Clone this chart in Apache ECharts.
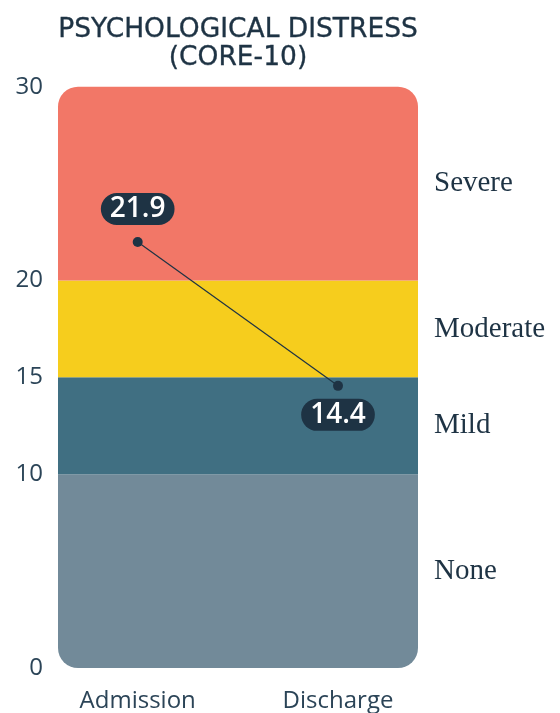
<!DOCTYPE html>
<html>
<head>
<meta charset="utf-8">
<script src="https://cdn.jsdelivr.net/npm/echarts@6/dist/echarts.min.js"></script>
<style>
html,body{margin:0;padding:0;background:#fff;}
#chart{width:560px;height:713px;}
</style>
</head>
<body>
<div id="chart"></div>
<script>
// Data
const titleText = 'PSYCHOLOGICAL DISTRESS\n(CORE-10)';
const timepoints = ['Admission', 'Discharge'];
const scores = [21.9, 14.4];
const bandNames = ['None', 'Mild', 'Moderate', 'Severe'];
const bandSizes = [10, 5, 5, 10];
const bandColors = ['#728A99', '#406F82', '#F6CD1D', '#F27767'];
const yTicks = [0, 10, 15, 20, 30];

const dark = '#1E3344';
const gridTop = 86.7, gridBottom = 713 - 668;

const bandSeries = bandNames.map((name, i) => ({
  name: name,
  type: 'bar',
  stack: 'bands',
  xAxisIndex: 0,
  yAxisIndex: 0,
  barWidth: '100%',
  silent: true,
  data: [bandSizes[i]],
  itemStyle: {
    color: bandColors[i],
    borderRadius: i === 0 ? [0, 0, 20, 20] : (i === bandNames.length - 1 ? [20, 20, 0, 0] : 0)
  },
  label: {
    show: true,
    position: 'right',
    distance: 16,
    formatter: name,
    fontFamily: 'Liberation Serif',
    fontSize: 29,
    color: dark
  }
}));

const lineData = scores.map((v, i) => ({
  value: v,
  label: i === 0 ? {position: 'top', distance: 12} : {position: 'bottom', distance: 8}
}));

const chart = echarts.init(document.getElementById('chart'), null, {renderer: 'canvas'});
chart.setOption({
  animation: false,
  title: {
    text: titleText,
    left: 233,
    textAlign: 'center',
    top: 11,
    textStyle: {
      fontFamily: 'DejaVu Sans',
      fontWeight: 'normal',
      fontSize: 26.5,
      lineHeight: 28,
      color: dark,
      textBorderColor: dark,
      textBorderWidth: 0.35
    }
  },
  grid: [
    {left: 58, right: 142, top: gridTop, bottom: gridBottom},
    {left: 137.7, right: 222, top: gridTop, bottom: gridBottom}
  ],
  xAxis: [
    {type: 'category', gridIndex: 0, data: [''], show: false},
    {
      type: 'category', gridIndex: 1, data: timepoints, boundaryGap: false,
      axisLine: {show: false}, axisTick: {show: false},
      axisLabel: {margin: 27, fontFamily: 'Open Sans', fontSize: 24, color: '#2B4457'}
    }
  ],
  yAxis: [
    {
      type: 'value', gridIndex: 0, min: 0, max: 30, interval: 5,
      splitLine: {show: false}, axisLine: {show: false}, axisTick: {show: false},
      axisLabel: {
        margin: 15, fontFamily: 'Open Sans', fontSize: 24, color: '#2B4457',
        formatter: v => (yTicks.indexOf(v) >= 0 ? String(v) : '')
      }
    },
    {type: 'value', gridIndex: 1, min: 0, max: 30, show: false}
  ],
  series: bandSeries.concat([{
    type: 'line',
    xAxisIndex: 1,
    yAxisIndex: 1,
    data: lineData,
    symbol: 'circle',
    symbolSize: 10,
    z: 10,
    lineStyle: {color: dark, width: 1.2},
    itemStyle: {color: dark},
    label: {
      show: true,
      formatter: p => p.value.toFixed(1),
      fontFamily: 'Open Sans',
      fontWeight: 600,
      fontSize: 28,
      lineHeight: 28,
      color: '#fff',
      backgroundColor: dark,
      borderRadius: 16,
      padding: [2, 9]
    }
  }])
});
</script>
</body>
</html>
